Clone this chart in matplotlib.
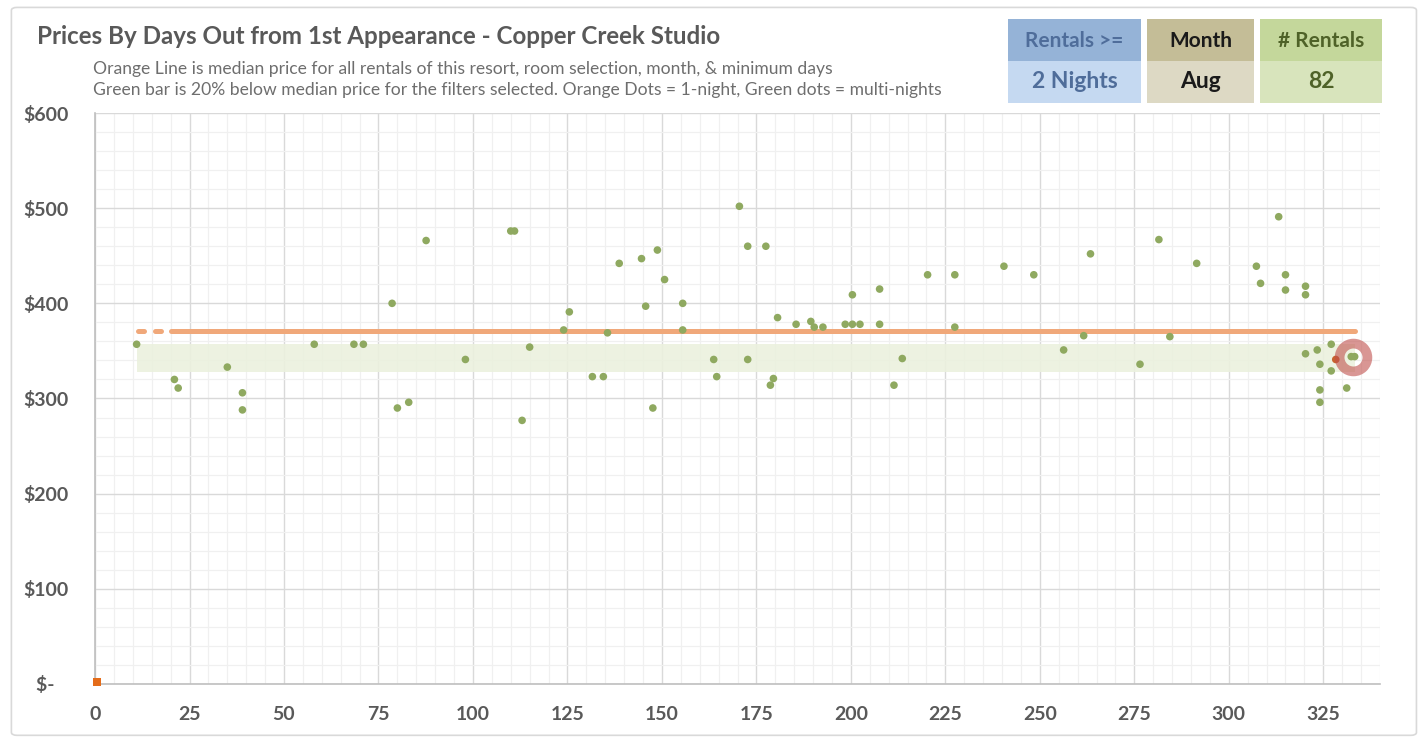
import matplotlib.pyplot as plt
from matplotlib.patches import FancyBboxPatch, Rectangle

plt.rcParams['font.family'] = ['Lato', 'DejaVu Sans']

# multi-night rentals (green dots)
days = [11, 21, 22, 35, 39, 39, 58, 68.5, 71, 78.6, 80, 83, 87.6, 98,
        110, 111, 113, 115, 124, 125.5, 131.6, 134.5, 135.6, 138.7, 144.6, 145.7,
        147.6, 148.8, 150.7, 155.5, 155.5, 163.7, 164.5, 170.5, 172.7, 172.7,
        177.5, 178.7, 179.5, 180.6, 185.5, 189.4, 190.3, 192.6, 198.5, 200.4,
        202.4, 200.4, 207.6, 207.6, 211.4, 213.6,
        220.3, 227.5, 227.5, 240.5, 248.4, 256.3, 261.6, 263.4, 276.5, 281.5,
        284.4, 291.5, 307.3, 308.4, 313.2, 315, 315, 320.3, 320.3, 320.3,
        323.4, 324.1, 324.1, 324.1, 327.1, 327.1, 331.2, 332.4, 333.3]
prices = [357, 320, 311, 333, 306, 288, 357, 357, 357, 400, 290, 296, 466, 341,
          476, 476, 277, 354, 372, 391, 323, 323, 369, 442, 447, 397,
          290, 456, 425, 400, 372, 341, 323, 502, 460, 341,
          460, 314, 321, 385, 378, 381, 375, 375, 378, 378,
          378, 409, 415, 378, 314, 342,
          430, 430, 375, 439, 430, 351, 366, 452, 336, 467,
          365, 442, 439, 421, 491, 430, 414, 418, 409, 347,
          351, 336, 309, 296, 357, 329, 311, 344, 344]

# 1-night rentals (orange dots)
one_night_days = [328.3]
one_night_prices = [341]

median_price = 371
band_low, band_high = 328, 357
band_start, band_end = 11, 333.5
line_dash_end = 19.6

highlight = (332.8, 344)
origin_marker = (0.6, 2)

x_ticks = list(range(0, 326, 25))
y_ticks = list(range(0, 601, 100))
y_labels = ['$-   '] + ['${}'.format(v) for v in y_ticks[1:]]

title = 'Prices By Days Out from 1st Appearance - Copper Creek Studio'
subtitle_1 = 'Orange Line is median price for all rentals of this resort, room selection, month, & minimum days'
subtitle_2 = 'Green bar is 20% below median price for the filters selected. Orange Dots = 1-night, Green dots = multi-nights'

box_headers = ['Rentals >=', 'Month', '# Rentals']
box_values = ['2 Nights', 'Aug', '82']

fig = plt.figure(figsize=(14.25, 7.42), dpi=100)
fig.patches.append(FancyBboxPatch((0.008, 0.009), 0.986, 0.981,
                                  boxstyle='round,pad=0,rounding_size=0.004',
                                  transform=fig.transFigure, fc='none', ec='#D9D9D9', lw=1.2))

ax = fig.add_axes([0.0667, 0.0782, 0.9017, 0.7695])
ax.set_xlim(0, 340)
ax.set_ylim(0, 600)

# grid
ax.set_xticks(x_ticks)
ax.set_xticks(range(0, 341, 5), minor=True)
ax.set_yticks(y_ticks)
ax.set_yticks(range(0, 601, 20), minor=True)
ax.grid(which='major', color='#D9D9D9', lw=1.0)
ax.grid(which='minor', color='#F0F0F0', lw=0.9)
ax.set_axisbelow(True)
ax.tick_params(which='both', length=0)
ax.set_xticklabels([str(t) for t in x_ticks], fontsize=14, fontweight='bold', color='#595959')
ax.set_yticklabels(y_labels, fontsize=14, fontweight='bold', color='#595959')
ax.tick_params(axis='x', pad=16)
ax.tick_params(axis='y', pad=19)
for s in ['top', 'right']:
    ax.spines[s].set_visible(False)
for s in ['left', 'bottom']:
    ax.spines[s].set_color('#BFBFBF')
    ax.spines[s].set_linewidth(1.2)

# green band
ax.add_patch(Rectangle((band_start, band_low), band_end - band_start, band_high - band_low,
                       fc='#EBF1DE', ec='none', alpha=0.9, zorder=1))

# median line
ax.plot([band_start + 0.3, line_dash_end], [median_price, median_price], color='#F0A87A',
        lw=3.6, dashes=(1.2, 2.2), solid_capstyle='round', dash_capstyle='round', zorder=2)
ax.plot([line_dash_end + 0.5, band_end], [median_price, median_price], color='#F0A87A',
        lw=3.6, solid_capstyle='round', zorder=2)

# dots
ax.scatter(days, prices, s=30, color='#8FA960', edgecolors='none', zorder=3)
ax.scatter(one_night_days, one_night_prices, s=30, color='#C8622E', edgecolors='none', zorder=3)
ax.scatter([origin_marker[0]], [origin_marker[1]], s=34, marker='s', color='#E46C1A',
           edgecolors='none', zorder=4, clip_on=False)

# highlight ring
ax.plot([highlight[0]], [highlight[1]], marker='o', ms=20, mfc='none', mec='#C0504D',
        mew=7, alpha=0.6, zorder=5)

# titles
fig.text(37 / 1425, 1 - 37 / 742, title, fontsize=17.4, fontweight='bold', color='#595959',
         va='center', ha='left')
fig.text(93 / 1425, 1 - 69 / 742, subtitle_1, fontsize=12.6, color='#6E6E6E', va='center')
fig.text(93 / 1425, 1 - 90 / 742, subtitle_2, fontsize=12.6, color='#6E6E6E', va='center')

# filter boxes
box_x = [(1008, 1141), (1147, 1254), (1260, 1382)]
head_colors = ['#95B3D7', '#C4BD97', '#C4D79B']
value_colors = ['#C5D9F1', '#DDD9C4', '#D8E4BC']
text_colors = ['#4F6D9A', '#1A1A1A', '#4F6228']
for (x0, x1), hc, vc, tc, head, val in zip(box_x, head_colors, value_colors, text_colors,
                                          box_headers, box_values):
    fx, fw = x0 / 1425, (x1 - x0) / 1425
    fig.patches.append(Rectangle((fx, 1 - 61 / 742), fw, 42 / 742, transform=fig.transFigure,
                                 fc=hc, ec='none'))
    fig.patches.append(Rectangle((fx, 1 - 103 / 742), fw, 42 / 742, transform=fig.transFigure,
                                 fc=vc, ec='none'))
    fig.text(fx + fw / 2, 1 - 41 / 742, head, ha='center', va='center', fontsize=15,
             fontweight='bold', color=tc)
    fig.text(fx + fw / 2, 1 - 82 / 742, val, ha='center', va='center', fontsize=16.5,
             fontweight='bold', color=tc)

fig.savefig('out.png', dpi=100)
